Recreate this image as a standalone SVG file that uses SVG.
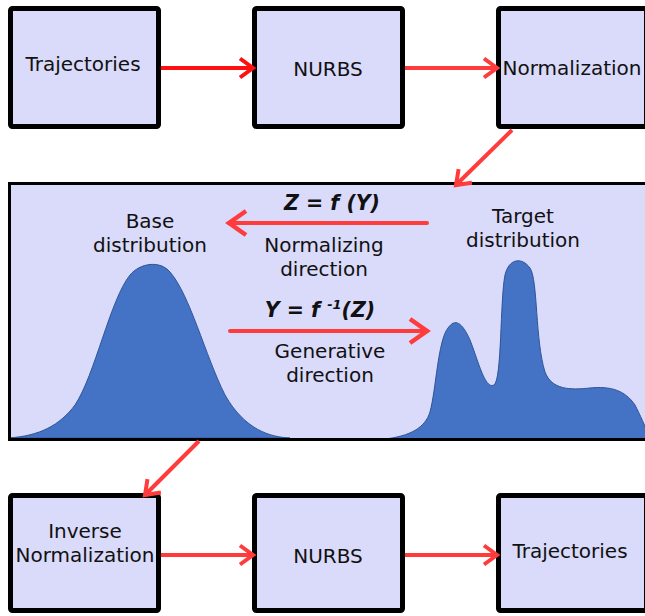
<svg xmlns="http://www.w3.org/2000/svg" width="645" height="616" viewBox="0 0 645 616">
<style>
.box{fill:#dadafa;stroke:#000;stroke-width:5}
.t{font-family:"DejaVu Sans",Verdana,sans-serif;font-size:20px;fill:#111;text-anchor:middle}
.eq{font-family:"DejaVu Sans",Verdana,sans-serif;font-size:20.5px;font-weight:bold;font-style:italic;fill:#111;text-anchor:middle}
.ar{stroke:#ff3b3b;stroke-width:4;fill:none}
.dist{fill:#4472c4;stroke:#2f5597;stroke-width:1}
</style>
<defs>
<marker id="hs" markerUnits="userSpaceOnUse" markerWidth="30" markerHeight="30" viewBox="-20 -15 30 30" refX="0" refY="0" orient="auto" overflow="visible">
<path d="M-13,-9.5 L0,0 L-13,9.5" fill="none" stroke="#ff3b3b" stroke-width="4"/>
</marker>
<marker id="hs0" markerUnits="userSpaceOnUse" markerWidth="30" markerHeight="30" viewBox="-20 -15 30 30" refX="0" refY="0" orient="auto" overflow="visible">
<path d="M-13,-9.5 L0,0 L-13,9.5" fill="none" stroke="#ff1010" stroke-width="4"/>
</marker>
<marker id="hl" markerUnits="userSpaceOnUse" markerWidth="40" markerHeight="40" viewBox="-25 -20 40 40" refX="0" refY="0" orient="auto" overflow="visible">
<path d="M-17,-12 L0,0 L-17,12" fill="none" stroke="#ff3b3b" stroke-width="4.5"/>
</marker>
</defs>

<g id="panel">
<rect x="9.5" y="183.5" width="640" height="256" fill="#dadafa"/>
<path class="dist" d="M8,438 C40,436 60,425 75,405 C95,375 110,300 130,275 C140,263 160,260 170,272 C190,295 205,355 225,395 C245,430 270,437 290,438 Z"/>
<path class="dist" d="M385,439 C410,436 425,428 430,412 C436,390 438,340 448,328 C455,318 462,322 470,340 C478,360 485,390 494,385 C502,380 500,300 505,275 C509,258 522,257 530,268 C538,280 535,340 545,372 C552,390 570,390 590,388 C610,386 625,390 635,405 C640,415 645,425 650,440 L385,440 Z"/>
<rect x="9.5" y="183.5" width="640" height="256" fill="none" stroke="#000" stroke-width="3"/>
<text class="t" x="150" y="228">Base</text>
<text class="t" x="150" y="252">distribution</text>
<text class="t" x="523" y="223">Target</text>
<text class="t" x="523" y="247">distribution</text>
<text class="eq" x="332" y="210">Z = f (Y)</text>
<text class="t" x="324" y="252">Normalizing</text>
<text class="t" x="324" y="276">direction</text>
<text class="eq" x="320" y="317">Y = f <tspan font-size="13" dy="-8">-1</tspan><tspan dy="8">(Z)</tspan></text>
<text class="t" x="330" y="358">Generative</text>
<text class="t" x="330" y="382">direction</text>
</g>

<g id="n1"><rect class="box" x="10.5" y="8.5" width="148" height="118" rx="2"/><text class="t" x="83" y="71">Trajectories</text></g>
<g id="n2"><rect class="box" x="254.5" y="8.5" width="148" height="118" rx="2"/><text class="t" x="328" y="76">NURBS</text></g>
<g id="n3"><rect class="box" x="498.5" y="8.5" width="148" height="118" rx="2"/><text class="t" x="572" y="75">Normalization</text></g>
<g id="n4"><rect class="box" x="10.5" y="495.5" width="148" height="115" rx="2"/><text class="t" x="85" y="538">Inverse</text><text class="t" x="85" y="562">Normalization</text></g>
<g id="n5"><rect class="box" x="254.5" y="495.5" width="148" height="115" rx="2"/><text class="t" x="328" y="563">NURBS</text></g>
<g id="n6"><rect class="box" x="498.5" y="495.5" width="148" height="115" rx="2"/><text class="t" x="570" y="558">Trajectories</text></g>

<g id="connectors">
<line x1="161" y1="68" x2="253" y2="68" stroke="#ff1010" stroke-width="4" marker-end="url(#hs0)"/>
<line class="ar" x1="405" y1="68" x2="497" y2="68" marker-end="url(#hs)"/>
<line class="ar" x1="512" y1="130" x2="456" y2="185" marker-end="url(#hs)"/>
<line class="ar" x1="427" y1="223" x2="229" y2="223" stroke-linecap="round" marker-end="url(#hl)"/>
<line class="ar" x1="230" y1="331" x2="427" y2="331" stroke-linecap="round" marker-end="url(#hl)"/>
<line class="ar" x1="199" y1="441" x2="145" y2="495" marker-end="url(#hs)"/>
<line class="ar" x1="161" y1="555" x2="253" y2="555" marker-end="url(#hs)"/>
<line class="ar" x1="405" y1="555" x2="497" y2="555" marker-end="url(#hs)"/>
</g>
</svg>
